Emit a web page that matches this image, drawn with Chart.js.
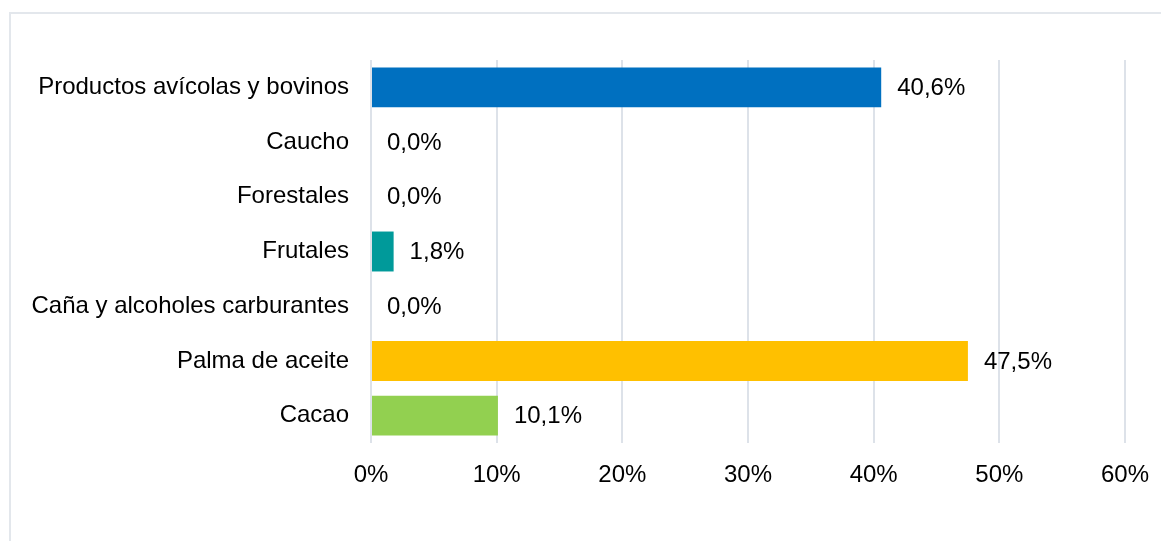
<!DOCTYPE html>
<html lang="es">
<head>
<meta charset="utf-8">
<title>Participación por cadena</title>
<script src="https://cdn.jsdelivr.net/npm/chart.js@4.4.1/dist/chart.umd.min.js"></script>
<style>
    html, body {
        margin: 0;
        padding: 0;
        background: #ffffff;
        overflow: hidden;
    }
    #frame {
        position: absolute;
        left: 9px;
        top: 12px;
        width: 1200px;
        height: 600px;
        border: 2px solid #e3e7ec;
        box-sizing: border-box;
    }
    #chart-wrap {
        position: absolute;
        left: 0;
        top: 0;
        width: 1161px;
        height: 541px;
    }
</style>
</head>
<body>
<div id="frame"></div>
<div id="chart-wrap">
    <canvas id="bar-chart" width="1161" height="541"></canvas>
</div>
<script>
// datos (porcentajes)
const categorias = [
    'Productos avícolas y bovinos',
    'Caucho',
    'Forestales',
    'Frutales',
    'Caña y alcoholes carburantes',
    'Palma de aceite',
    'Cacao'
];
const valores = [40.6, 0.0, 0.0, 1.8, 0.0, 47.5, 10.1];
const colores = ['#0070C0', '#0070C0', '#0070C0', '#009A9A', '#0070C0', '#FFC000', '#92D050'];
const ticksX = [0, 10, 20, 30, 40, 50, 60];

const fuente = { family: 'Liberation Sans, Arial, sans-serif', size: 24 };

function formatoPct(v) {
    return v.toFixed(1).replace('.', ',') + '%';
}

// etiquetas de valor al final de cada barra
const etiquetasPlugin = {
    id: 'etiquetas',
    afterDatasetsDraw(chart) {
        const ctx = chart.ctx;
        const meta = chart.getDatasetMeta(0);
        ctx.save();
        ctx.font = fuente.size + 'px ' + fuente.family;
        ctx.fillStyle = '#000000';
        ctx.textAlign = 'left';
        ctx.textBaseline = 'middle';
        meta.data.forEach((bar, i) => {
            ctx.fillText(formatoPct(valores[i]), bar.x + 16, bar.y + 1);
        });
        ctx.restore();
    }
};

document.addEventListener('DOMContentLoaded', function() {
    const ctx = document.getElementById('bar-chart').getContext('2d');
    new Chart(ctx, {
        type: 'bar',
        data: {
            labels: categorias,
            datasets: [{
                data: valores,
                backgroundColor: colores,
                borderWidth: 0,
                barPercentage: 0.73,
                categoryPercentage: 1
            }]
        },
        options: {
            indexAxis: 'y',
            responsive: false,
            animation: false,
            devicePixelRatio: 1,
            layout: {
                padding: { top: 60, right: 36, bottom: 0, left: 0 }
            },
            plugins: {
                legend: { display: false },
                tooltip: { enabled: false }
            },
            scales: {
                x: {
                    min: ticksX[0],
                    max: ticksX[ticksX.length - 1],
                    afterBuildTicks: scale => {
                        scale.ticks = ticksX.map(v => ({ value: v }));
                    },
                    afterFit: scale => {
                        scale.height = 98;
                        scale.paddingLeft = 0;
                        scale.paddingRight = 0;
                    },
                    grid: {
                        color: '#dde2e9',
                        lineWidth: 2,
                        drawTicks: false
                    },
                    border: { display: false },
                    ticks: {
                        font: fuente,
                        color: '#000000',
                        padding: 18,
                        callback: v => v + '%'
                    }
                },
                y: {
                    afterFit: scale => {
                        scale.width = 371;
                        scale.paddingTop = 0;
                        scale.paddingBottom = 0;
                    },
                    grid: { display: false, drawTicks: false },
                    border: { display: false },
                    ticks: {
                        font: fuente,
                        color: '#000000',
                        padding: 22
                    }
                }
            }
        },
        plugins: [etiquetasPlugin]
    });
});
</script>
</body>
</html>
